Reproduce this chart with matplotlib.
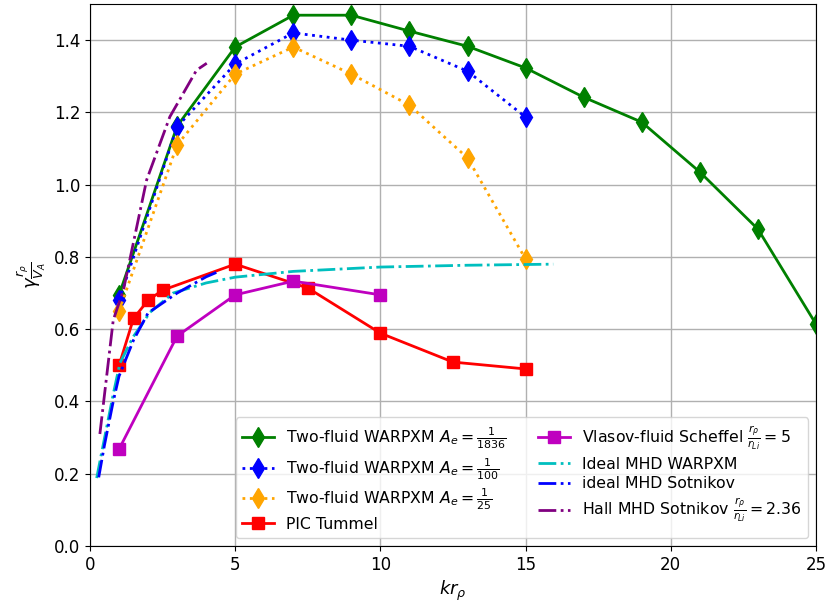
import matplotlib
matplotlib.use("Agg")
import matplotlib.pyplot as plt

# Two-fluid WARPXM growth rates for three electron mass ratios
k_1836 = [1, 3, 5, 7, 9, 11, 13, 15, 17, 19, 21, 23, 25]
g_1836 = [0.695, 1.162, 1.381, 1.469, 1.469, 1.425, 1.383, 1.323, 1.242, 1.173, 1.035, 0.877, 0.614]

k_100 = [1, 3, 5, 7, 9, 11, 13, 15]
g_100 = [0.68, 1.16, 1.334, 1.42, 1.40, 1.383, 1.314, 1.187]

k_25 = [1, 3, 5, 7, 9, 11, 13, 15]
g_25 = [0.65, 1.11, 1.306, 1.381, 1.306, 1.22, 1.074, 0.794]

# PIC (Tummel)
k_pic = [1, 1.5, 2, 2.5, 5, 7.5, 10, 12.5, 15]
g_pic = [0.50, 0.63, 0.68, 0.708, 0.78, 0.714, 0.589, 0.509, 0.49]

# Vlasov-fluid (Scheffel)
k_vlasov = [1, 3, 5, 7, 10]
g_vlasov = [0.268, 0.581, 0.695, 0.733, 0.695]

# Ideal MHD (WARPXM)
k_mhd_w = [0.23, 0.38, 0.8, 1.03, 1.48, 2.07, 2.86, 4.0, 5.0, 7.0, 10.0, 13.0, 15.95]
g_mhd_w = [0.188, 0.25, 0.42, 0.506, 0.578, 0.647, 0.70, 0.728, 0.744, 0.76, 0.772, 0.777, 0.780]

# Ideal MHD (Sotnikov)
k_mhd_s = [0.3, 0.5, 0.8, 1.0, 1.5, 2.0, 3.0, 4.0, 4.35]
g_mhd_s = [0.19, 0.28, 0.40, 0.47, 0.57, 0.645, 0.70, 0.745, 0.757]

# Hall MHD (Sotnikov)
k_hall = [0.34, 0.8, 1.15, 1.95, 2.75, 3.67, 4.02]
g_hall = [0.31, 0.625, 0.708, 1.013, 1.188, 1.317, 1.336]

fig = plt.figure(figsize=(8.28, 6.10), dpi=100)
ax = fig.add_axes([90/828, 1-546/610, (816-90)/828, (546-4)/610])

lw = 2
ax.plot(k_1836, g_1836, '-', color='green', marker='d', markersize=10, lw=lw,
        label=r'Two-fluid WARPXM $A_e = \frac{1}{1836}$')
ax.plot(k_100, g_100, ':', color='blue', marker='d', markersize=10, lw=lw,
        label=r'Two-fluid WARPXM $A_e = \frac{1}{100}$')
ax.plot(k_25, g_25, ':', color='orange', marker='d', markersize=10, lw=lw,
        label=r'Two-fluid WARPXM $A_e = \frac{1}{25}$')
ax.plot(k_pic, g_pic, '-', color='red', marker='s', markersize=9, lw=lw,
        label='PIC Tummel')
ax.plot(k_vlasov, g_vlasov, '-', color='m', marker='s', markersize=9, lw=lw,
        label=r'Vlasov-fluid Scheffel $\frac{r_\rho}{r_{Li}} = 5$')
ax.plot(k_mhd_w, g_mhd_w, '-.', color='c', lw=lw, label='Ideal MHD WARPXM')
ax.plot(k_mhd_s, g_mhd_s, '-.', color='blue', lw=lw, label='ideal MHD Sotnikov')
ax.plot(k_hall, g_hall, '-.', color='purple', lw=lw,
        label=r'Hall MHD Sotnikov $\frac{r_\rho}{r_{Li}} = 2.36$')

ax.set_xlim(0, 25)
ax.set_ylim(0, 1.5)
ax.set_yticks([0.0, 0.2, 0.4, 0.6, 0.8, 1.0, 1.2, 1.4])
ax.grid(True, color='#b0b0b0', lw=1)
ax.tick_params(labelsize=12)
ax.set_xlabel(r'$kr_\rho$', fontsize=13)
ax.set_ylabel(r'$\gamma\frac{r_\rho}{V_A}$', fontsize=13)
ax.legend(loc='lower right', ncol=2, fontsize=11.3, labelspacing=0.3)

fig.savefig('out.png', dpi=100)
